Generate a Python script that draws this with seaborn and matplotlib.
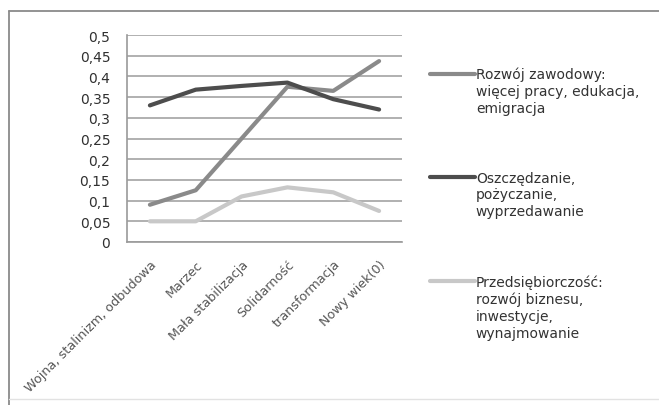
import numpy as np
import pandas as pd
import matplotlib
matplotlib.use("Agg")
import matplotlib.pyplot as plt
from matplotlib.lines import Line2D
import seaborn as sns

# categories (x axis) and series values
categories = ["Wojna, stalinizm, odbudowa", "Marzec", "Mała stabilizacja",
              "Solidarność", "transformacja", "Nowy wiek(0)"]
rozwoj = [0.09, 0.125, 0.25, 0.375, 0.365, 0.437]
oszczedzanie = [0.33, 0.368, 0.377, 0.385, 0.345, 0.32]
przedsiebiorczosc = [0.05, 0.05, 0.11, 0.132, 0.12, 0.075]

series_names = ["Rozwój zawodowy:\nwięcej pracy, edukacja,\nemigracja",
                "Oszczędzanie,\npożyczanie,\nwyprzedawanie",
                "Przedsiębiorczość:\nrozwój biznesu,\ninwestycje,\nwynajmowanie"]
colors = ["#8a8a8a", "#4d4d4d", "#c8c8c8"]
yticks = [0, 0.05, 0.1, 0.15, 0.2, 0.25, 0.3, 0.35, 0.4, 0.45, 0.5]

# long form table for seaborn
rows = []
for name, vals in zip(series_names, [rozwoj, oszczedzanie, przedsiebiorczosc]):
    for i, v in enumerate(vals):
        rows.append({"pos": i, "val": v, "seria": name})
df = pd.DataFrame(rows)

sns.set_style("white")
plt.rcParams["font.family"] = ["DejaVu Sans"]

W, H = 659, 406
fig = plt.figure(figsize=(W / 100, H / 100), dpi=100)
ax = fig.add_axes([127 / W, 1 - 243 / H, 275 / W, 207 / H])

# frame of the chart area (top and left edges show, rest is cut off)
fig.add_artist(Line2D([9 / W, 1.0], [1 - 12 / H, 1 - 12 / H], transform=fig.transFigure,
                      color="#8a8a8a", linewidth=1.3))
fig.add_artist(Line2D([9 / W, 9 / W], [0.0, 1 - 12 / H], transform=fig.transFigure,
                      color="#8a8a8a", linewidth=1.3))
fig.add_artist(Line2D([9 / W, 1.0], [6 / H, 6 / H], transform=fig.transFigure,
                      color="#e2e2e2", linewidth=1.0))

sns.lineplot(data=df, x="pos", y="val", hue="seria", palette=colors,
             linewidth=3.0, sort=False, ax=ax, legend=True)

ax.set_ylim(0, 0.5)
ax.set_xlim(-0.5, len(categories) - 0.5)
ax.set_yticks(yticks)
ax.set_yticklabels([("%g" % t).replace(".", ",") for t in yticks], fontsize=10,
                   color="#303030")
ax.yaxis.grid(True, color="#a3a3a3", linewidth=1.2)
ax.set_axisbelow(True)

ax.set_xticks(range(len(categories)))
ax.set_xticklabels(categories, rotation=45, ha="right", rotation_mode="anchor",
                   fontsize=9.2, color="#555555")
ax.set_xticks(np.arange(-0.5, len(categories), 1.0), minor=True)
ax.tick_params(axis="x", which="major", length=0, pad=11)
ax.tick_params(axis="x", which="minor", length=4, color="#8a8a8a", direction="out")
ax.tick_params(axis="y", length=0, pad=12)
ax.set_xlabel("")
ax.set_ylabel("")

for side in ["top", "right"]:
    ax.spines[side].set_visible(False)
for side in ["left", "bottom"]:
    ax.spines[side].set_color("#9a9a9a")
    ax.spines[side].set_linewidth(1.2)

# legend: handle sits next to the first line of each label
handles, labels = ax.get_legend_handles_labels()
ax.get_legend().remove()
first_lines = [l.split("\n")[0] for l in labels]
rest_lines = ["\n".join(l.split("\n")[1:]) for l in labels]
leg = fig.legend(handles, first_lines, loc="upper left",
                 bbox_to_anchor=(430 / W, 1 - 68 / H), borderpad=0, borderaxespad=0,
                 frameon=False, fontsize=10, handlelength=3.25, handletextpad=0.05,
                 labelspacing=6.45, labelcolor="#333333")

fig.canvas.draw()
for t, rest in zip(leg.get_texts(), rest_lines):
    bb = t.get_window_extent()
    fig.text(bb.x0 / W, (bb.y0 - 2) / H, rest, ha="left", va="top", fontsize=10,
             color="#333333", linespacing=1.3)

fig.savefig("out.png", dpi=100)
